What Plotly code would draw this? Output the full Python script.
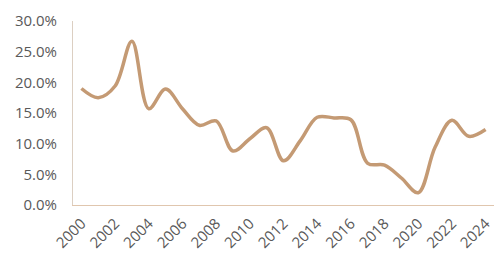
import plotly.graph_objects as go

years = [str(y) for y in range(2000, 2025)]
values = [19.0, 17.5, 19.4, 26.7, 15.7, 18.9, 15.7, 13.0, 13.7, 8.8,
          10.8, 12.6, 7.2, 10.5, 14.3, 14.2, 13.9, 6.8, 6.5, 4.4,
          2.0, 9.4, 13.8, 11.2, 12.3]
ytick_vals = [0, 5, 10, 15, 20, 25, 30]
ytick_text = ["0.0%", "5.0%", "10.0%", "15.0%", "20.0%", "25.0%", "30.0%"]
xtick_vals = years[::2]

fig = go.Figure()
fig.add_trace(go.Scatter(
    x=years, y=values, mode="lines",
    line=dict(color="#C49A74", width=3.5, shape="spline", smoothing=1.0),
    hoverinfo="skip",
))

font = dict(family="'Open Sans', Lato, sans-serif", size=15, color="#595959")
fig.update_layout(
    width=504, height=262,
    margin=dict(l=73, r=10, t=16, b=56),
    paper_bgcolor="white", plot_bgcolor="white",
    showlegend=False,
    font=font,
)
fig.update_xaxes(
    type="category", range=[-0.5, 24.5],
    tickvals=xtick_vals, ticktext=xtick_vals, tickangle=-45,
    showgrid=False, showline=True, linecolor="#E0C6AE", linewidth=1,
    ticks="", tickfont=font, ticklabelstandoff=3,
)
fig.update_yaxes(
    range=[0, 30], tickvals=ytick_vals, ticktext=ytick_text,
    showgrid=False, showline=True, linecolor="#DCCFC2", linewidth=1,
    ticks="", zeroline=False, tickfont=font, ticklabelstandoff=12,
)
fig.write_html("out.html")
